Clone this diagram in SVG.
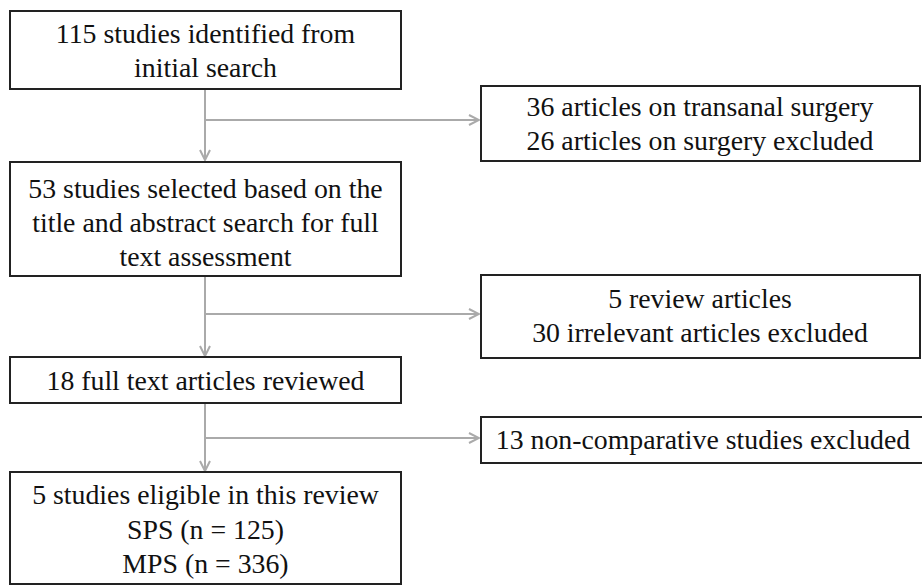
<svg xmlns="http://www.w3.org/2000/svg" width="922" height="585" viewBox="0 0 922 585">
<style>
.box{fill:#fff;stroke:#222;stroke-width:2}
text{font-family:'Liberation Serif','Times New Roman',Times,'DejaVu Serif',serif;font-size:27.8px;fill:#111;text-anchor:middle}
.c{fill:none;stroke:#aaa;stroke-width:2}
</style>
<defs>
<marker id="ah" viewBox="0 0 12 12" refX="11" refY="6" markerWidth="12" markerHeight="12" markerUnits="userSpaceOnUse" orient="auto">
<path d="M1,1 L11,6 L1,11" fill="none" stroke="#aaa" stroke-width="2"/>
</marker>
</defs>
<rect width="922" height="585" fill="#fff"/>
<g id="connectors">
<line class="c" x1="205" y1="89" x2="205" y2="160" marker-end="url(#ah)"/>
<line class="c" x1="205" y1="120" x2="479" y2="120" marker-end="url(#ah)"/>
<line class="c" x1="205" y1="276" x2="205" y2="356" marker-end="url(#ah)"/>
<line class="c" x1="205" y1="314" x2="479" y2="314" marker-end="url(#ah)"/>
<line class="c" x1="205" y1="403" x2="205" y2="471" marker-end="url(#ah)"/>
<line class="c" x1="205" y1="438" x2="479" y2="438" marker-end="url(#ah)"/>
</g>
<g id="n1">
<rect class="box" x="10" y="11" width="391" height="78"/>
<text x="205.5" y="43">115 studies identified from</text>
<text x="205.5" y="77">initial search</text>
</g>
<g id="n2">
<rect class="box" x="10" y="162" width="391" height="114"/>
<text x="205.5" y="198">53 studies selected based on the</text>
<text x="205.5" y="232">title and abstract search for full</text>
<text x="205.5" y="266">text assessment</text>
</g>
<g id="n3">
<rect class="box" x="10" y="357" width="391" height="46"/>
<text x="205.5" y="390">18 full text articles reviewed</text>
</g>
<g id="n4">
<rect class="box" x="10" y="472" width="391" height="112"/>
<text x="205.5" y="504">5 studies eligible in this review</text>
<text x="205.5" y="539">SPS (n = 125)</text>
<text x="205.5" y="573">MPS (n = 336)</text>
</g>
<g id="r1">
<rect class="box" x="481" y="86" width="439" height="75"/>
<text x="700" y="116">36 articles on transanal surgery</text>
<text x="700" y="150">26 articles on surgery excluded</text>
</g>
<g id="r2">
<rect class="box" x="481" y="275" width="439" height="83"/>
<text x="700" y="308">5 review articles</text>
<text x="700" y="342">30 irrelevant articles excluded</text>
</g>
<g id="r3">
<rect class="box" x="481" y="417" width="446" height="46"/>
<text x="703" y="449">13 non-comparative studies excluded</text>
</g>
</svg>
